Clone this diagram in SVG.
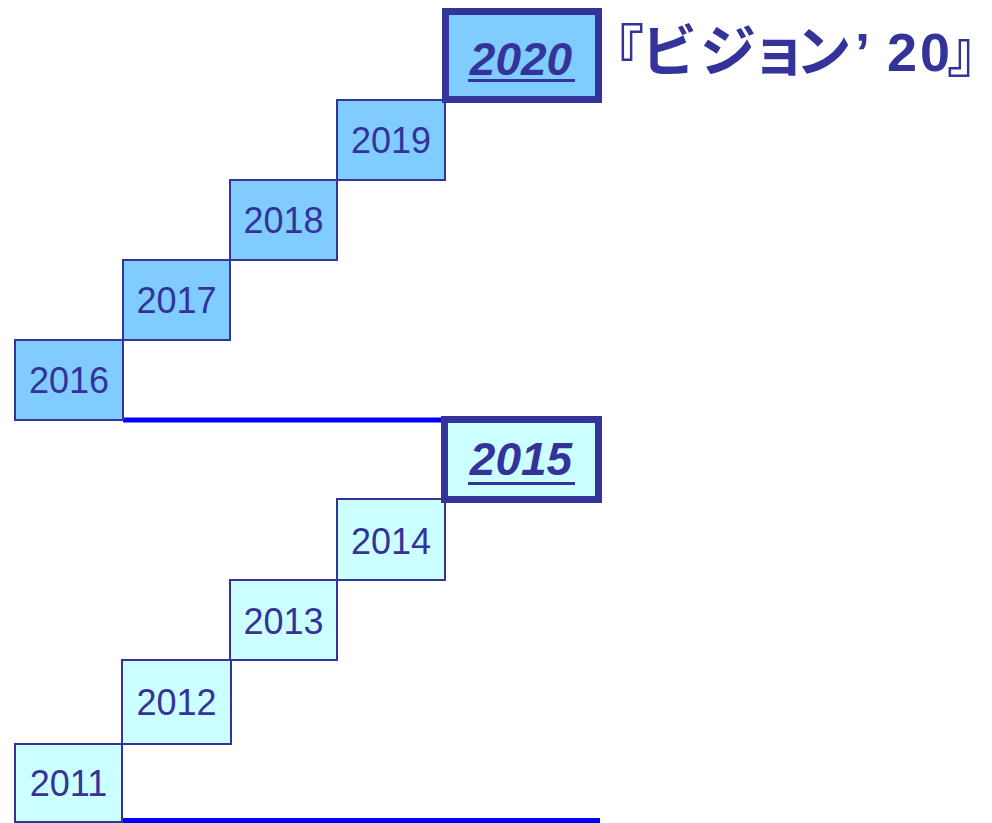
<svg xmlns="http://www.w3.org/2000/svg" width="992" height="823" viewBox="0 0 992 823">
<style>
.b{stroke:#333399;stroke-width:2}
.up{fill:#80CCFF}
.lo{fill:#CCFFFF}
.big{stroke:#333399;stroke-width:7}
.yr{font-family:"Liberation Sans",Arial,sans-serif;font-size:36px;fill:#333399;text-anchor:middle}
.hy{font-family:"Liberation Sans",Arial,sans-serif;font-size:46px;font-weight:bold;font-style:italic;fill:#333399;text-anchor:middle}
.ul{stroke:#333399;stroke-width:3}
.ln{stroke:#0000FF;stroke-width:5}
</style>
<rect width="992" height="823" fill="#FFFFFF"/>
<g id="connectors">
<line class="ln" x1="123" y1="420" x2="444" y2="420"/>
<line class="ln" x1="123" y1="820.5" x2="600" y2="820.5"/>
</g>
<g id="y2016"><rect class="b up" x="15" y="340" width="108" height="80"/><text class="yr" x="69" y="393">2016</text></g>
<g id="y2017"><rect class="b up" x="123" y="260" width="107" height="80"/><text class="yr" x="176.5" y="313">2017</text></g>
<g id="y2018"><rect class="b up" x="230" y="180" width="107" height="80"/><text class="yr" x="283.5" y="233">2018</text></g>
<g id="y2019"><rect class="b up" x="337" y="100" width="108" height="80"/><text class="yr" x="391" y="153">2019</text></g>
<g id="y2020"><rect class="big up" x="445.5" y="11.5" width="153" height="88"/><text class="hy" x="521" y="75">2020</text><line class="ul" x1="468" y1="80.5" x2="575" y2="80.5"/></g>
<g id="y2011"><rect class="b lo" x="15" y="744" width="107" height="78"/><text class="yr" x="68.5" y="796">2011</text></g>
<g id="y2012"><rect class="b lo" x="122" y="660" width="109" height="84"/><text class="yr" x="176.5" y="715">2012</text></g>
<g id="y2013"><rect class="b lo" x="230" y="580" width="107" height="80"/><text class="yr" x="283.5" y="634">2013</text></g>
<g id="y2014"><rect class="b lo" x="337" y="499" width="108" height="81"/><text class="yr" x="391" y="554">2014</text></g>
<g id="y2015"><rect class="big lo" x="444.5" y="419.5" width="154" height="80"/><text class="hy" x="521" y="475">2015</text><line class="ul" x1="468" y1="483.5" x2="575" y2="483.5"/></g>
<g id="vision"><text font-family="'Liberation Sans','Noto Sans CJK JP',sans-serif" font-weight="bold" fill="#333399" y="71"><tspan font-family="'Noto Sans CJK JP',sans-serif" font-size="56" x="588 641 700 751 795.5">『ビジョン</tspan><tspan font-size="54" x="855 887 920">’20</tspan><tspan font-family="'Noto Sans CJK JP',sans-serif" font-size="56" x="947">』</tspan></text></g>
</svg>
